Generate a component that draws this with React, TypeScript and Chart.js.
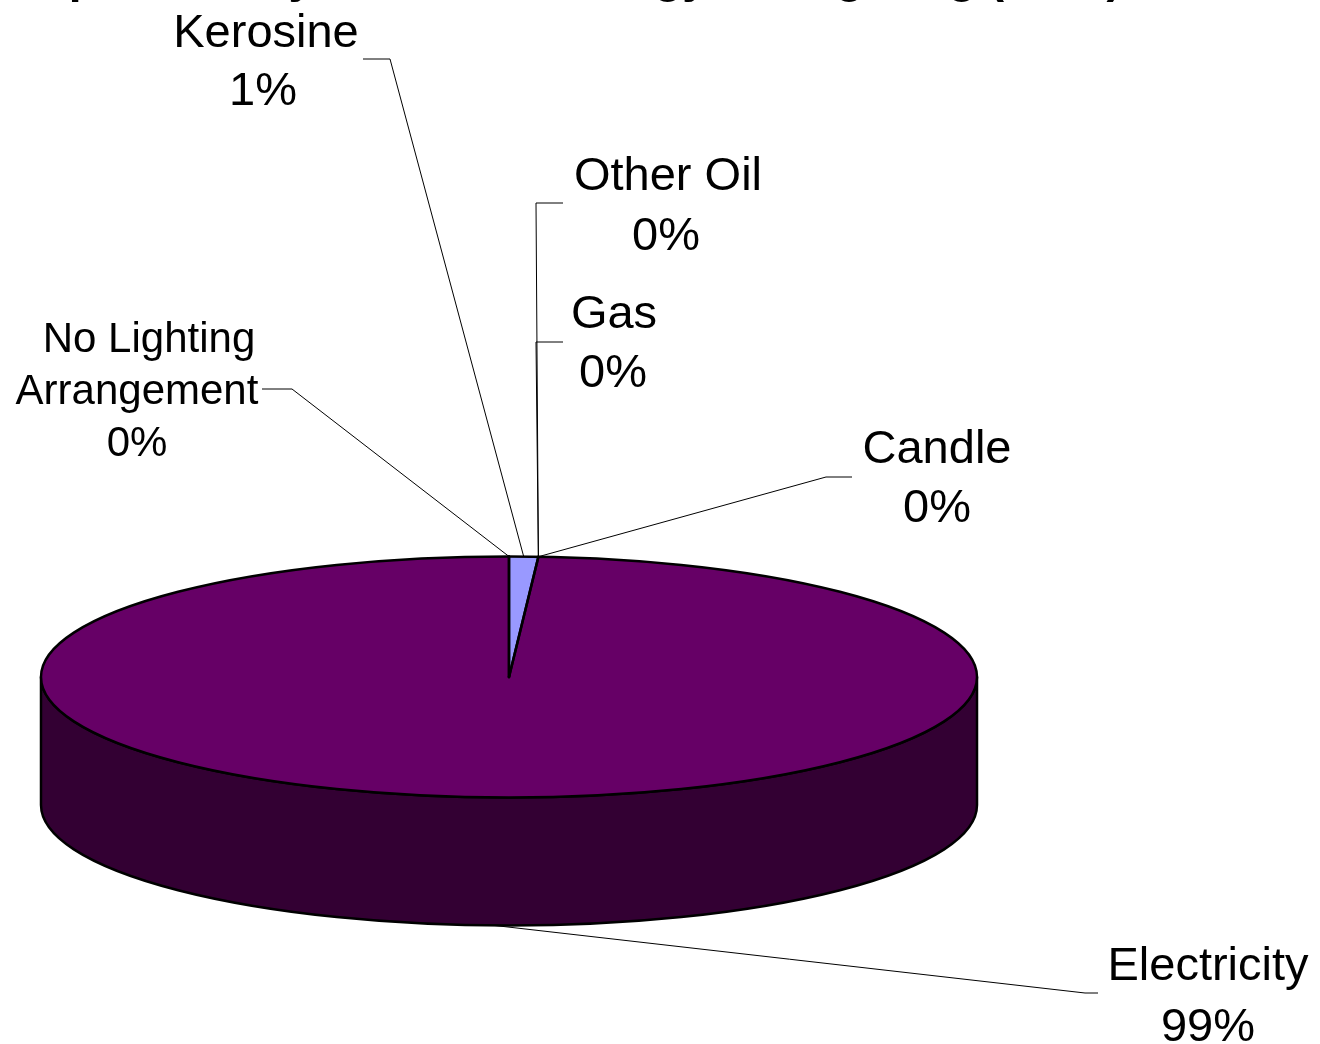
import React, { useEffect, useRef } from 'react';
import { Chart, registerables } from 'chart.js';

Chart.register(...registerables);

// Slices, in drawing order (clockwise from 12 o'clock)
const categories = ['Kerosine', 'Other Oil', 'Gas', 'Candle', 'Electricity', 'No Lighting Arrangement'];
const shares = [1, 0, 0, 0, 99, 0];
const topColors = ['#9999FF', '#993366', '#FFFFCC', '#CCFFFF', '#660066', '#FF8080'];
const sideColors = ['#4D4D80', '#4D1A33', '#808066', '#668080', '#330033', '#804040'];
const labelLines = [['Kerosine'], ['Other Oil'], ['Gas'], ['Candle'], ['Electricity'], ['No Lighting', 'Arrangement']];
const titleText = 'Population by Source of Energy for Lighting (2001)';

// Label placement: line centres, first baseline, line step, font size, leader elbow
const labelBoxes = [
  { xs: [266, 263], y: 47, step: 58, size: 47, leader: [[363, 59], [390, 59]] },
  { xs: [668, 666], y: 190, step: 60, size: 47, leader: [[563, 203], [536, 203]] },
  { xs: [614, 613], y: 328, step: 59, size: 47, leader: [[563, 342], [536, 342]] },
  { xs: [937, 937], y: 463, step: 59, size: 47, leader: [[852, 477], [826, 477]] },
  { xs: [1208, 1208], y: 980, step: 61, size: 47, leader: [[1098, 993], [1085, 993]] },
  { xs: [149, 137, 137], y: 352, step: 52, size: 42, leader: [[262, 389], [292, 389]] },
];

// 3D look: top face squash, wall depth, and where the top face centre sits
const TILT = 0.2575;
const DEPTH = 128;
const FACE_Y = 677;
const EDGE_WIDTH = 2.5;
const FONT = '"Liberation Sans", Arial, Helvetica, sans-serif';

function frontPart(s: number, e: number): [number, number] | null {
  const a = Math.max(s, 0);
  const b = Math.min(e, Math.PI);
  return b > a ? [a, b] : null;
}

const pie3d = {
  id: 'pie3d',
  beforeDatasetsDraw(chart: any) {
    const ctx: CanvasRenderingContext2D = chart.ctx;
    const meta = chart.getDatasetMeta(0);
    const first = meta.data[0].getProps(['x', 'y', 'outerRadius'], true);
    const cx = first.x;
    const cy = first.y;
    const r = first.outerRadius;
    const ry = r * TILT;

    // side walls of the front half
    meta.data.forEach((arc: any, i: number) => {
      const { startAngle, endAngle } = arc.getProps(['startAngle', 'endAngle'], true);
      const seg = frontPart(startAngle, endAngle);
      if (!seg) return;
      const [a, b] = seg;
      ctx.save();
      ctx.beginPath();
      ctx.ellipse(cx, FACE_Y, r, ry, 0, a, b, false);
      ctx.ellipse(cx, FACE_Y + DEPTH, r, ry, 0, b, a, true);
      ctx.closePath();
      ctx.fillStyle = sideColors[i];
      ctx.fill();
      ctx.lineWidth = EDGE_WIDTH;
      ctx.strokeStyle = '#000';
      ctx.lineJoin = 'round';
      ctx.stroke();
      ctx.restore();
    });

    // squash the circular pie into the elliptical top face
    ctx.save();
    ctx.translate(cx, FACE_Y);
    ctx.scale(1, TILT);
    ctx.translate(-cx, -cy);
  },
  afterDatasetsDraw(chart: any) {
    const ctx: CanvasRenderingContext2D = chart.ctx;
    ctx.restore();

    const meta = chart.getDatasetMeta(0);
    const first = meta.data[0].getProps(['x', 'y', 'outerRadius'], true);
    const cx = first.x;
    const r = first.outerRadius;
    const ry = r * TILT;
    const total = shares.reduce((s, v) => s + v, 0);

    // top face outline and slice edges
    ctx.save();
    ctx.strokeStyle = '#000';
    ctx.lineWidth = EDGE_WIDTH;
    ctx.lineJoin = 'round';
    ctx.lineCap = 'round';
    ctx.beginPath();
    ctx.ellipse(cx, FACE_Y, r, ry, 0, 0, Math.PI * 2);
    ctx.stroke();
    meta.data.forEach((arc: any, i: number) => {
      if (shares[i] <= 0) return;
      const { startAngle, endAngle } = arc.getProps(['startAngle', 'endAngle'], true);
      [startAngle, endAngle].forEach((ang: number) => {
        ctx.beginPath();
        ctx.moveTo(cx, FACE_Y);
        ctx.lineTo(cx + r * Math.cos(ang), FACE_Y + ry * Math.sin(ang));
        ctx.stroke();
      });
    });
    ctx.restore();

    // leader lines
    ctx.save();
    ctx.strokeStyle = '#000';
    ctx.lineWidth = 1;
    meta.data.forEach((arc: any, i: number) => {
      const { startAngle, endAngle } = arc.getProps(['startAngle', 'endAngle'], true);
      const mid = shares[i] > 0 ? (startAngle + endAngle) / 2 : startAngle;
      const px = cx + r * Math.cos(mid);
      let py = FACE_Y + ry * Math.sin(mid);
      if (mid > 0 && mid < Math.PI) py += DEPTH;
      const box = labelBoxes[i];
      ctx.beginPath();
      ctx.moveTo(box.leader[0][0], box.leader[0][1]);
      ctx.lineTo(box.leader[1][0], box.leader[1][1]);
      ctx.lineTo(px, py);
      ctx.stroke();
    });
    ctx.restore();

    // labels: category name and share
    ctx.save();
    ctx.fillStyle = '#000';
    ctx.textAlign = 'center';
    ctx.textBaseline = 'alphabetic';
    categories.forEach((_, i) => {
      const box = labelBoxes[i];
      ctx.font = `${box.size}px ${FONT}`;
      const lines = [...labelLines[i], `${Math.round((shares[i] / total) * 100)}%`];
      lines.forEach((txt, k) => {
        ctx.fillText(txt, box.xs[k], box.y + k * box.step);
      });
    });
    ctx.restore();

    // chart title, running off the top edge
    ctx.save();
    ctx.fillStyle = '#000';
    ctx.textAlign = 'left';
    ctx.textBaseline = 'alphabetic';
    ctx.font = `bold 46px ${FONT}`;
    ctx.fillText(titleText, 10, -8);
    ctx.restore();
  },
};

export default function App() {
  const canvasRef = useRef<HTMLCanvasElement | null>(null);

  useEffect(() => {
    const canvas = canvasRef.current;
    if (!canvas) return;
    const chart = new Chart(canvas, {
      type: 'pie',
      data: {
        labels: categories,
        datasets: [
          {
            data: shares,
            backgroundColor: topColors,
            borderWidth: 0,
            clip: false,
          } as any,
        ],
      },
      options: {
        responsive: false,
        animation: false,
        devicePixelRatio: 1,
        events: [],
        layout: { padding: { left: 41, right: 343, top: 54, bottom: 54 } },
        plugins: {
          legend: { display: false },
          tooltip: { enabled: false },
          title: { display: false },
        },
      },
      plugins: [pie3d],
    });
    return () => chart.destroy();
  }, []);

  return (
    <div style={{ position: 'absolute', left: 0, top: 0, width: 1320, height: 1044, background: '#fff' }}>
      <canvas ref={canvasRef} width={1320} height={1044} />
    </div>
  );
}
